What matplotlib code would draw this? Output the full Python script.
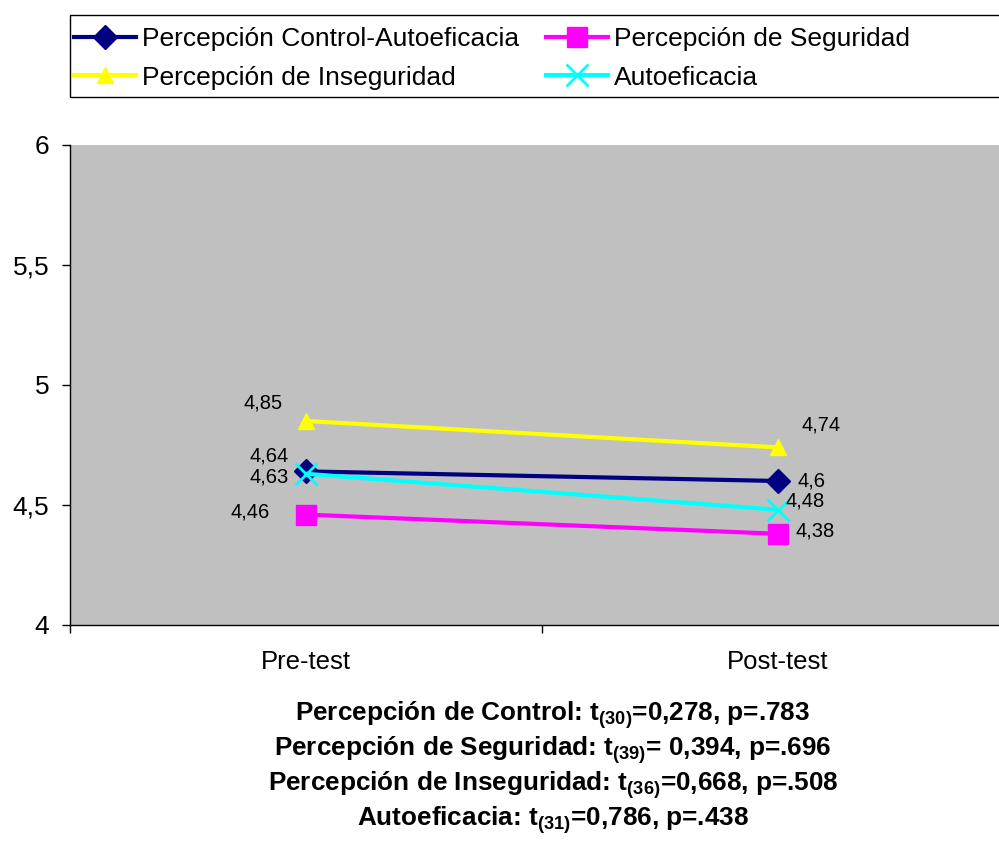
import matplotlib.pyplot as plt
import matplotlib.patches as mpatches
from matplotlib.ticker import FixedLocator, FuncFormatter

plt.rcParams["font.family"] = ["Liberation Sans", "DejaVu Sans"]
plt.rcParams["mathtext.fontset"] = "custom"
plt.rcParams["mathtext.rm"] = "Liberation Sans:bold"
plt.rcParams["mathtext.it"] = "Liberation Sans:bold"
plt.rcParams["mathtext.bf"] = "Liberation Sans:bold"

# Data
categories = ["Pre-test", "Post-test"]
series_names = [
    "Percepción Control-Autoeficacia",
    "Percepción de Seguridad",
    "Percepción de Inseguridad",
    "Autoeficacia",
]
control_auto = [4.64, 4.60]
seguridad = [4.46, 4.38]
inseguridad = [4.85, 4.74]
autoeficacia = [4.63, 4.48]
stats_lines = [
    r"Percepción de Control: t$_{(30)}$=0,278, p=.783",
    r"Percepción de Seguridad: t$_{(39)}$= 0,394, p=.696",
    r"Percepción de Inseguridad: t$_{(36)}$=0,668, p=.508",
    r"Autoeficacia: t$_{(31)}$=0,786, p=.438",
]

# Styles per series: color, marker, markersize, label offsets (pixels) for pre/post
styles = [
    (control_auto, "#000080", "D", 12, [(-37, 15), (33, 0)]),
    (seguridad, "#FF00FF", "s", 15, [(-56, 3), (37, 3)]),
    (inseguridad, "#FFFF00", "^", 11, [(-43, 18), (43, 22)]),
    (autoeficacia, "#00FFFF", "x", 16, [(-37, -3), (27, 9)]),
]

fig = plt.figure(figsize=(9.99, 8.41), dpi=100)
ax = fig.add_axes([70 / 999, 216 / 841, 944 / 999, 480 / 841])
ax.set_facecolor("#C0C0C0")

x = list(range(len(categories)))
lines = []
for (vals, color, marker, ms, offs), name in zip(styles, series_names):
    mew = 2 if marker == "x" else 1
    ln, = ax.plot(x, vals, color=color, marker=marker, markersize=ms, linewidth=3,
                  markeredgewidth=mew, label=name, clip_on=False)
    lines.append(ln)
    for xi, v, off in zip(x, vals, offs):
        ax.annotate(f"{v:g}".replace(".", ","), (xi, v), xytext=off,
                    textcoords="offset pixels", ha="center", va="center",
                    fontsize=14.5, color="black")

ax.set_xlim(-0.5, 1.5)
ax.set_ylim(4, 6)
ax.set_yticks([4, 4.5, 5, 5.5, 6])
ax.yaxis.set_major_formatter(FuncFormatter(lambda v, p: f"{v:g}".replace(".", ",")))
ax.tick_params(axis="y", labelsize=19, length=6, width=1, direction="out", pad=9)

ax.xaxis.set_major_locator(FixedLocator([-0.5, 0.5, 1.5]))
ax.xaxis.set_minor_locator(FixedLocator(x))
ax.set_xticklabels([], minor=False)
ax.set_xticklabels(categories, minor=True)
ax.tick_params(axis="x", which="major", length=6, width=1, direction="out")
ax.tick_params(axis="x", which="minor", length=0, labelsize=18.5, pad=18)

for s in ["top", "right"]:
    ax.spines[s].set_visible(False)
for s in ["left", "bottom"]:
    ax.spines[s].set_color("black")
    ax.spines[s].set_linewidth(1)

# Legend box drawn separately, entries ordered row-wise
fig.patches.append(mpatches.Rectangle((70 / 999, 1 - 97 / 841), 930 / 999, 82 / 841,
                                      transform=fig.transFigure, fill=False,
                                      edgecolor="black", linewidth=1))
order = [0, 2, 1, 3]
leg = fig.legend([lines[i] for i in order], [series_names[i] for i in order],
                 loc="upper left", bbox_to_anchor=(74 / 999, 1 - 27 / 841),
                 ncol=2, fontsize=19, frameon=False, handlelength=2.35,
                 handletextpad=0.23, borderaxespad=0, borderpad=0,
                 labelspacing=0.55, columnspacing=1.0)

for i, line in enumerate(stats_lines):
    fig.text(553 / 999, 1 - (715 + 35 * i) / 841, line, ha="center", va="center",
             fontsize=18.8, fontweight="bold")

fig.savefig("out.png", dpi=100)
